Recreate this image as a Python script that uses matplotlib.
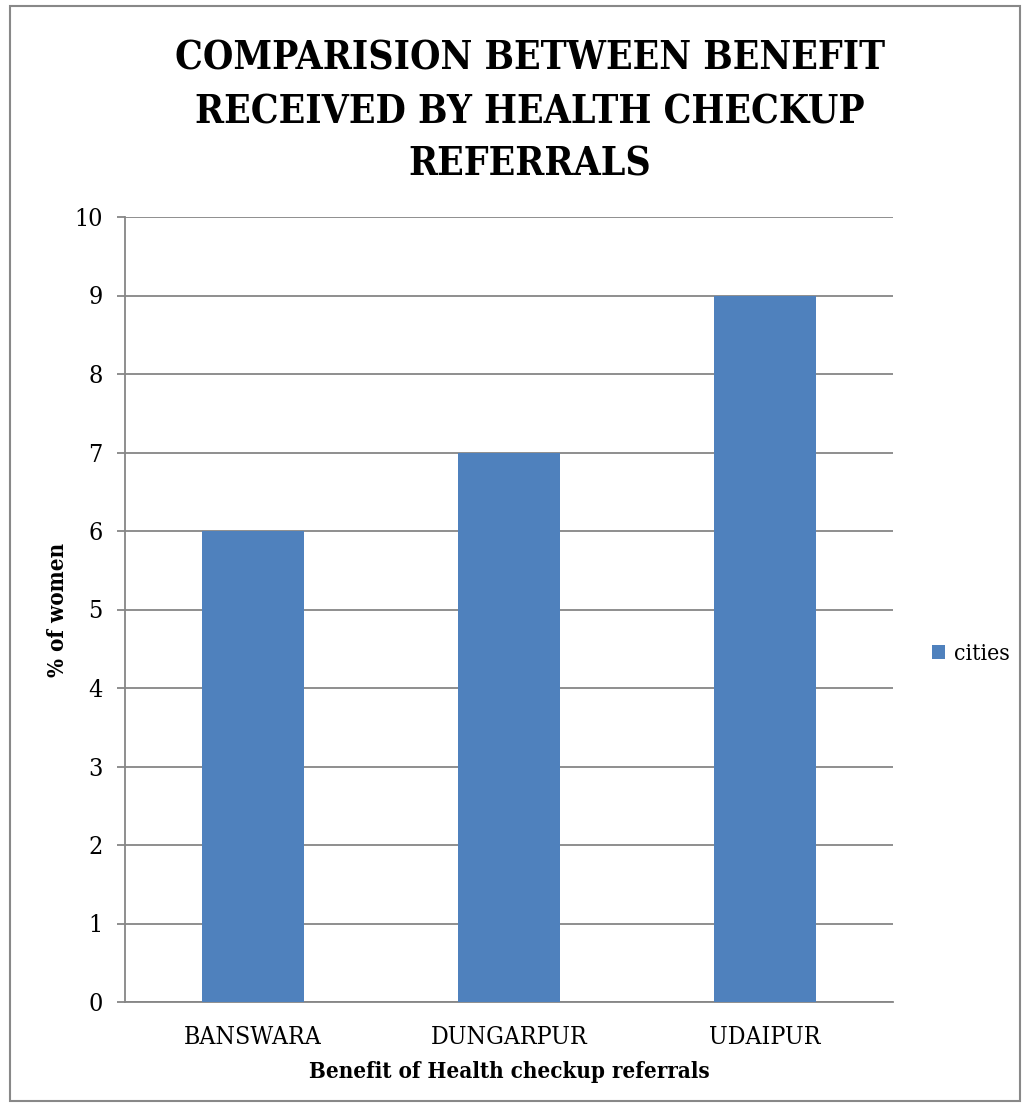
import matplotlib
matplotlib.use("Agg")
import matplotlib.pyplot as plt
from matplotlib import font_manager
from matplotlib.patches import Rectangle
import numpy as np

cities = ["BANSWARA", "DUNGARPUR", "UDAIPUR"]
pct_women = [6, 7, 9]
y_ticks = list(range(0, 11))

# prefer a condensed serif face when one is installed
names = {(f.name, f.stretch) for f in font_manager.fontManager.ttflist}
serif = "Liberation Serif"
stretch = "normal"
for name, st in names:
    if name.startswith("DejaVu Serif") and "ondensed" in str(st):
        serif, stretch = name, "condensed"
        break
if serif == "Liberation Serif":
    for name, st in names:
        if "Condensed" in name and "Serif" in name:
            serif = name
            break

bar_color = "#4F81BD"
grid_color = "#868686"

fig = plt.figure(figsize=(10.23, 11.09), dpi=100)
fig.patches.append(Rectangle((10 / 1023, 8 / 1109), 1010 / 1023, 1095 / 1109,
                             transform=fig.transFigure, fill=False,
                             edgecolor="#888888", linewidth=1.5))

ax = fig.add_axes([125 / 1023, 1 - 1002 / 1109, 768 / 1023, 785 / 1109])
x = np.arange(len(cities))
ax.bar(x, pct_women, width=0.395, color=bar_color, zorder=3, label="cities")
ax.set_xlim(-0.5, 2.5)
ax.set_ylim(0, 10)
ax.set_yticks(y_ticks)
ax.yaxis.grid(True, color=grid_color, linewidth=1.3, zorder=0)
ax.set_xticks(x)
ax.set_xticklabels(cities, fontsize=17.8, family=serif, fontstretch=stretch)
ax.set_yticklabels([str(v) for v in y_ticks], fontsize=18, family=serif,
                   fontstretch=stretch)
ax.tick_params(axis="x", length=0, pad=17)
ax.tick_params(axis="y", length=6, color=grid_color, width=1.3, pad=10)
for s in ["top", "right"]:
    ax.spines[s].set_visible(False)
ax.spines["left"].set_color(grid_color)
ax.spines["left"].set_linewidth(1.3)
ax.spines["bottom"].set_color(grid_color)
ax.spines["bottom"].set_linewidth(1.3)

ax.set_xlabel("Benefit of Health checkup referrals", fontsize=16,
              fontweight="bold", family=serif, fontstretch=stretch, labelpad=9)
ax.set_ylabel("% of women", fontsize=16, fontweight="bold", family=serif,
              fontstretch=stretch, labelpad=4)

fig.text(530 / 1023, 1 - 112 / 1109,
         "COMPARISION BETWEEN BENEFIT\nRECEIVED BY HEALTH CHECKUP\nREFERRALS",
         ha="center", va="center", fontsize=28, fontweight="bold",
         family=serif, fontstretch=stretch, linespacing=1.5)

leg = ax.legend(loc="center left", bbox_to_anchor=(1.024, 0.443), frameon=False,
                prop={"family": serif, "size": 16.5, "stretch": stretch},
                handlelength=0.55, handleheight=0.55, handletextpad=0.4)

fig.savefig("out.png", dpi=100)
